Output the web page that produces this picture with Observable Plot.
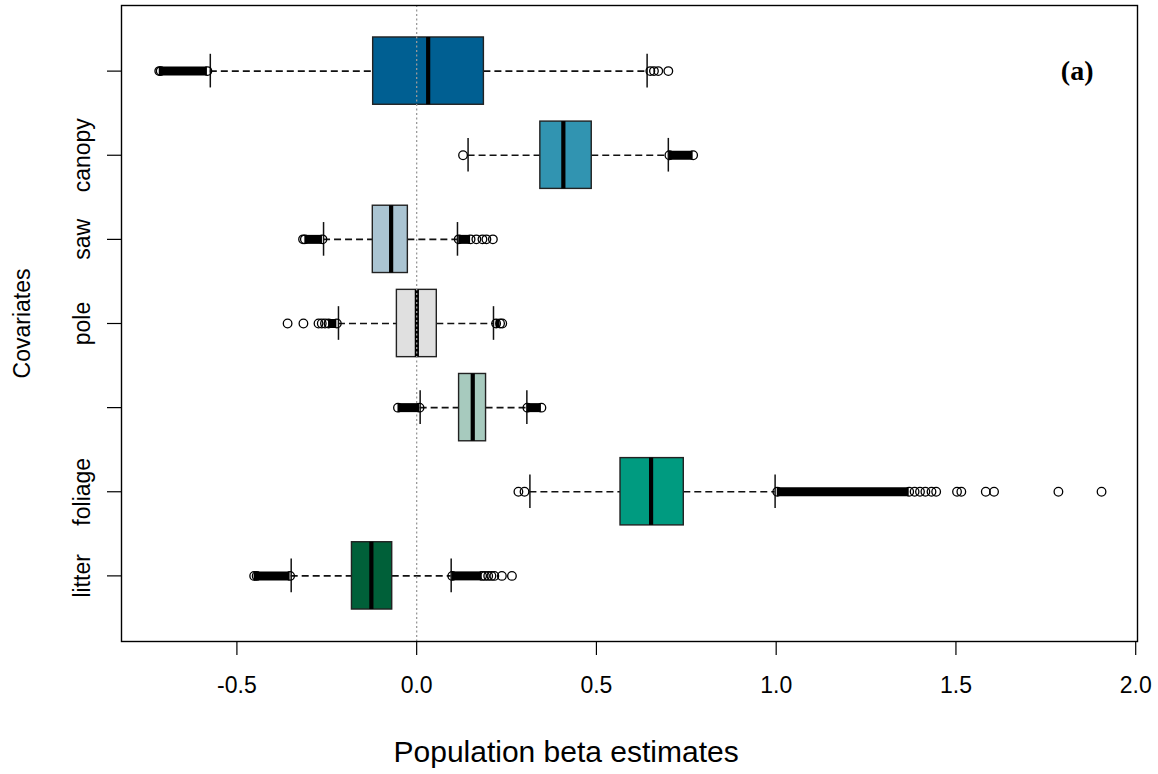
<!DOCTYPE html>
<html><head><meta charset="utf-8">
<script src="https://cdn.jsdelivr.net/npm/d3@7"></script>
<script src="https://cdn.jsdelivr.net/npm/@observablehq/plot@0.6"></script>
<style>html,body{margin:0;padding:0;background:#fff;} svg{display:block}</style>
</head><body><div id="chart"></div>
<script>
// Rows (top to bottom) and their tick labels (two labels were dropped by the original device)
const rowIds = [1, 2, 3, 4, 5, 6, 7];
const rowLabels = ["", "canopy", "saw", "pole", "", "foliage", "litter"];
const boxColors = ["#005F92", "#3194B1", "#AAC4D2", "#E0E0E0", "#A7CABE", "#009B80", "#006039"];

// Box-plot statistics per row
const lowerWhisker = [-0.574, 0.143, -0.259, -0.2175, 0.0097, 0.315, -0.349];
const q1 = [-0.121, 0.344, -0.122, -0.055, 0.118, 0.567, -0.180];
const medians = [0.032, 0.408, -0.071, 0.0005, 0.156, 0.652, -0.126];
const q3 = [0.187, 0.487, -0.0245, 0.056, 0.193, 0.743, -0.068];
const upperWhisker = [0.641, 0.700, 0.1135, 0.2137, 0.3065, 0.997, 0.096];

// Runs of overlapping outliers (appear as solid black bands)
const denseLower = [[-0.716, -0.582], null, [-0.311, -0.262], [-0.245, -0.222], [-0.052, 0.008], null, [-0.452, -0.352]];
const denseUpper = [null, [0.703, 0.769], [0.117, 0.150], [0.221, 0.232], [0.308, 0.347], [1.003, 1.370], [0.099, 0.182]];

// Individually visible outliers per row
const outliers = [
  [-0.716, -0.712, -0.582, 0.650, 0.660, 0.672, 0.700],
  [0.129, 0.703, 0.769],
  [-0.316, -0.311, -0.262, 0.117, 0.150, 0.166, 0.183, 0.194, 0.212],
  [-0.359, -0.315, -0.273, -0.264, -0.255, -0.245, -0.222, 0.221, 0.232, 0.238],
  [-0.052, 0.008, 0.308, 0.347],
  [0.283, 0.300, 1.003, 1.370, 1.385, 1.400, 1.415, 1.432, 1.445, 1.503, 1.515, 1.583, 1.606, 1.785, 1.905],
  [-0.452, -0.445, -0.352, 0.099, 0.182, 0.190, 0.199, 0.208, 0.216, 0.237, 0.265]
];

const xTicks = [-0.5, 0.0, 0.5, 1.0, 1.5, 2.0];

// Build tables for the library
const boxes = rowIds.map((r, i) => ({
  row: r, lo: lowerWhisker[i], q1: q1[i], med: medians[i], q3: q3[i], hi: upperWhisker[i], color: boxColors[i]
}));
const runs = [];
rowIds.forEach((r, i) => {
  if (denseLower[i]) runs.push({row: r, a: denseLower[i][0], b: denseLower[i][1]});
  if (denseUpper[i]) runs.push({row: r, a: denseUpper[i][0], b: denseUpper[i][1]});
});
const outPts = rowIds.flatMap((r, i) => outliers[i].map(v => ({row: r, v})));

const font = "Liberation Sans, Arial, sans-serif";
const half = 0.4, cap = 0.2;

const chart = Plot.plot({
  width: 1158,
  height: 774,
  marginLeft: 121,
  marginRight: 21,
  marginTop: 5,
  marginBottom: 133,
  style: {fontFamily: font, background: "#fff", color: "#000"},
  x: {domain: [-0.821, 2.005]},
  y: {domain: [0.22, 7.78], reverse: true},
  color: {type: "identity"},
  marks: [
    // whiskers (dashed)
    Plot.ruleY(boxes, {y: "row", x1: "lo", x2: "q1", stroke: "#111", strokeWidth: 1.6, strokeDasharray: "7,4"}),
    Plot.ruleY(boxes, {y: "row", x1: "q3", x2: "hi", stroke: "#111", strokeWidth: 1.6, strokeDasharray: "7,4"}),
    // staples
    Plot.ruleX(boxes, {x: "lo", y1: d => d.row - cap, y2: d => d.row + cap, stroke: "#111", strokeWidth: 1.5}),
    Plot.ruleX(boxes, {x: "hi", y1: d => d.row - cap, y2: d => d.row + cap, stroke: "#111", strokeWidth: 1.5}),
    // boxes
    Plot.rect(boxes, {x1: "q1", x2: "q3", y1: d => d.row - half, y2: d => d.row + half, fill: "color", stroke: "#222", strokeWidth: 1.4}),
    // medians
    Plot.ruleX(boxes, {x: "med", y1: d => d.row - half, y2: d => d.row + half, stroke: "#000", strokeWidth: 4.2}),
    // zero reference line
    Plot.ruleX([0], {stroke: "#9a9a9a", strokeWidth: 1.3, strokeDasharray: "2,2.5"}),
    // dense outlier bands
    Plot.ruleY(runs, {y: "row", x1: "a", x2: "b", stroke: "#000", strokeWidth: 9, strokeLinecap: "butt"}),
    // open outlier circles
    Plot.dot(outPts, {x: "v", y: "row", r: 4.3, stroke: "#000", strokeWidth: 1.3, fill: "none"}),
    // frame
    Plot.frame({stroke: "#000", strokeWidth: 1.4}),
    // panel tag
    Plot.text(["(a)"], {frameAnchor: "top-right", dx: -44, dy: 66, lineAnchor: "middle", textAnchor: "end",
      fontFamily: "Liberation Serif, Times New Roman, serif", fontWeight: "bold", fontSize: 28, fill: "#000"}),
    // axes
    Plot.axisX({ticks: xTicks, tickFormat: d => d.toFixed(1), tickSize: 14, tickPadding: 21, fontSize: 23,
      label: null, stroke: "#000", strokeWidth: 1.2}),
    Plot.axisY({ticks: rowIds, tickFormat: d => rowLabels[d - 1], tickSize: 14, tickPadding: 18, tickRotate: -90,
      fontSize: 23, label: null, stroke: "#000", strokeWidth: 1.2}),
    Plot.text(["Covariates"], {frameAnchor: "left", dx: -99, rotate: -90, textAnchor: "middle", lineAnchor: "middle",
      fontSize: 23, fill: "#000"}),
    Plot.text(["Population beta estimates"], {frameAnchor: "bottom-left", dx: 272, dy: 111, lineAnchor: "middle", textAnchor: "start",
      fontSize: 30, fill: "#000"})
  ]
});
document.getElementById("chart").appendChild(chart);
</script>
</body></html>
